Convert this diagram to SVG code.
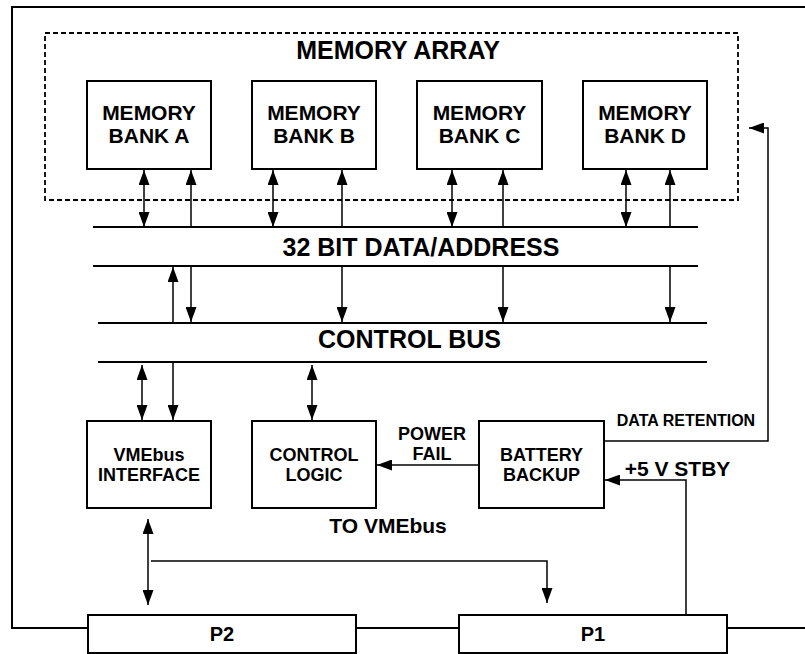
<svg xmlns="http://www.w3.org/2000/svg" width="805" height="654" viewBox="0 0 805 654">
<defs>
<marker id="ah" markerUnits="userSpaceOnUse" markerWidth="15" markerHeight="11" refX="15" refY="5.5" orient="auto-start-reverse"><path d="M0,0 L15,5.5 L0,11 z" fill="#000"/></marker>
<style>
.box{fill:#fff;stroke:#000;stroke-width:2}
.bus{stroke:#000;stroke-width:2;fill:none}
.uni{stroke:#000;stroke-width:1.5;fill:none;marker-end:url(#ah)}
.bi{stroke:#000;stroke-width:1.5;fill:none;marker-start:url(#ah);marker-end:url(#ah)}
text{font-family:"Liberation Sans",Arial,sans-serif;font-weight:bold;fill:#000;text-anchor:middle}
.t25{font-size:25px}.t21{font-size:21px}.t18{font-size:18px}.t16{font-size:16px}.t20{font-size:20px}
</style>
</defs>
<rect width="805" height="654" fill="#fff"/>
<g id="frame">
<path class="bus" d="M805,7 H12 V628 H88 M356,628 H459 M727,628 H805"/>
</g>
<g id="memory-array">
<rect x="45" y="33" width="693" height="167" fill="none" stroke="#000" stroke-width="1.8" stroke-dasharray="5,3"/>
<text class="t25" x="398" y="59">MEMORY ARRAY</text>
</g>
<g id="bank-a"><rect class="box" x="87" y="81" width="124" height="88"/><text class="t21" x="149" y="120">MEMORY</text><text class="t21" x="149" y="143">BANK A</text></g>
<g id="bank-b"><rect class="box" x="252" y="81" width="124" height="88"/><text class="t21" x="314" y="120">MEMORY</text><text class="t21" x="314" y="143">BANK B</text></g>
<g id="bank-c"><rect class="box" x="417" y="81" width="125" height="88"/><text class="t21" x="479.5" y="120">MEMORY</text><text class="t21" x="479.5" y="143">BANK C</text></g>
<g id="bank-d"><rect class="box" x="583" y="81" width="124" height="88"/><text class="t21" x="645" y="120">MEMORY</text><text class="t21" x="645" y="143">BANK D</text></g>
<g id="data-bus">
<path class="bus" d="M93,227 H698 M93,266 H698"/>
<text class="t25" x="421" y="256">32 BIT DATA/ADDRESS</text>
</g>
<g id="control-bus">
<path class="bus" d="M98,323 H707 M98,362 H707"/>
<text class="t25" x="409.5" y="348">CONTROL BUS</text>
</g>
<g id="vmebus-interface"><rect class="box" x="87" y="421" width="124" height="87"/><text class="t18" x="149" y="461">VMEbus</text><text class="t18" x="149" y="481">INTERFACE</text></g>
<g id="control-logic"><rect class="box" x="252" y="421" width="124" height="87"/><text class="t18" x="314" y="461">CONTROL</text><text class="t18" x="314" y="481">LOGIC</text></g>
<g id="battery-backup"><rect class="box" x="479" y="421" width="125" height="87"/><text class="t18" x="541.5" y="461">BATTERY</text><text class="t18" x="541.5" y="481">BACKUP</text></g>
<g id="p2"><rect class="box" x="88" y="615" width="268" height="38"/><text class="t20" x="222" y="641">P2</text></g>
<g id="p1"><rect class="box" x="459" y="615" width="268" height="38"/><text class="t20" x="593" y="641">P1</text></g>
<g id="connectors">
<line class="bi" x1="144" y1="170" x2="144" y2="227"/>
<line class="uni" x1="191" y1="227" x2="191" y2="170"/>
<line class="bi" x1="273" y1="170" x2="273" y2="227"/>
<line class="uni" x1="342" y1="227" x2="342" y2="170"/>
<line class="bi" x1="452" y1="170" x2="452" y2="227"/>
<line class="uni" x1="503" y1="227" x2="503" y2="170"/>
<line class="bi" x1="626" y1="170" x2="626" y2="227"/>
<line class="uni" x1="670" y1="227" x2="670" y2="170"/>
<line class="uni" x1="173" y1="323" x2="173" y2="267"/>
<line class="uni" x1="191" y1="266" x2="191" y2="322"/>
<line class="uni" x1="342" y1="266" x2="342" y2="322"/>
<line class="uni" x1="503" y1="266" x2="503" y2="322"/>
<line class="uni" x1="670" y1="266" x2="670" y2="322"/>
<line class="bi" x1="142" y1="365" x2="142" y2="420"/>
<line class="uni" x1="173" y1="362" x2="173" y2="420"/>
<line class="bi" x1="312" y1="365" x2="312" y2="420"/>
<line class="uni" x1="479" y1="465" x2="377" y2="465"/>
<path class="uni" d="M604,441 H768 V128 H749"/>
<path class="uni" d="M686,615 V480 H605"/>
<line class="bi" x1="148" y1="519" x2="148" y2="605"/>
<path class="uni" d="M151,561 H547 V603"/>
</g>
<g id="labels">
<text class="t18" x="432" y="440">POWER</text>
<text class="t18" x="432" y="460">FAIL</text>
<text class="t16" x="686" y="426">DATA RETENTION</text>
<text class="t21" x="677.5" y="476">+5 V STBY</text>
<text class="t21" x="388" y="533">TO VMEbus</text>
</g>
</svg>
